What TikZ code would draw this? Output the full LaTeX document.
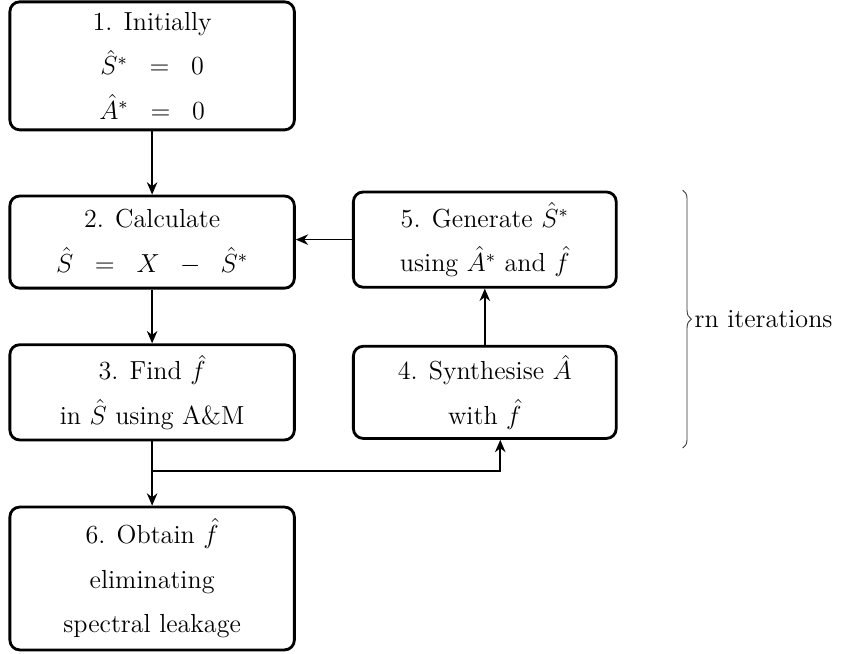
\documentclass[tikz,border=0pt]{standalone}
\usepackage{amsmath,amssymb}
\usetikzlibrary{arrows.meta,calc,decorations.pathreplacing}
\tikzset{
  stepbox/.style={rectangle,rounded corners=4.5pt,draw=black,line width=1.3pt,align=center,font=\fontsize{12}{20.5}\selectfont,inner sep=2pt},
  flow/.style={-{Stealth[length=2mm,width=1.7mm]},draw=black,line width=.8pt},
  brace/.style={decorate,decoration={brace,amplitude=4pt},draw=black!80,line width=.4pt},
}
\begin{document}
\begin{tikzpicture}[x=1cm,y=1cm]
  \path[use as bounding box] (0,0) rectangle (13.6,10.575);
  \node[stepbox,minimum width=4.6cm,minimum height=2.07cm] (init) at (2.46,9.51) {1. Initially\\$\hat{S}^{*}\;\;=\;\;0$\\$\hat{A}^{*}\;\;=\;\;0$};
  \node[stepbox,minimum width=4.6cm,minimum height=1.49cm] (calc) at (2.46,6.66) {2. Calculate\\$\hat{S}\;\;=\;\;X\;\;-\;\;\hat{S}^{*}$};
  \node[stepbox,minimum width=4.6cm,minimum height=1.54cm] (find) at (2.46,4.23) {3. Find $\hat{f}$\\in $\hat{S}$ using A\&M};
  \node[stepbox,minimum width=4.6cm,minimum height=2.31cm] (obtain) at (2.46,1.22) {6. Obtain $\hat{f}$\\eliminating\\spectral leakage};
  \node[stepbox,minimum width=4.25cm,minimum height=1.54cm] (gen) at (7.84,6.70) {5. Generate $\hat{S}^{*}$\\using $\hat{A}^{*}$ and $\hat{f}$};
  \node[stepbox,minimum width=4.25cm,minimum height=1.49cm] (synth) at (7.84,4.23) {4. Synthesise $\hat{A}$\\with $\hat{f}$};
  \coordinate (split) at ($(find.south)+(0,-.48)$);
  \draw[flow] (init) -- (calc);
  \draw[flow] (calc) -- (find);
  \draw[flow] (find.south) -- (obtain.north);
  \draw[flow] (split) -| ([xshift=.25cm]synth.south);
  \draw[flow] (synth) -- (gen);
  \draw[flow] (gen.west) -- (gen.west -| calc.east);
  \draw[brace] (11.04,7.50) -- (11.04,3.33) node[midway,right=2pt,font=\fontsize{12}{14}\selectfont] (iter) {rn iterations};
\end{tikzpicture}
\end{document}
